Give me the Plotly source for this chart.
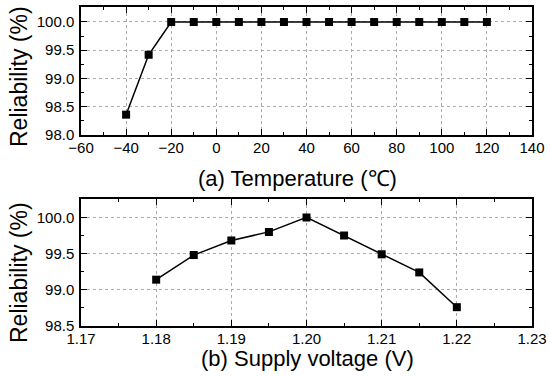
import plotly.graph_objects as go

temp_c = [-40, -30, -20, -10, 0, 10, 20, 30, 40, 50, 60, 70, 80, 90, 100, 110, 120]
temp_rel = [98.36, 99.42, 100.0, 100.0, 100.0, 100.0, 100.0, 100.0, 100.0, 100.0,
            100.0, 100.0, 100.0, 100.0, 100.0, 100.0, 100.0]

volt_v = [1.180, 1.185, 1.190, 1.195, 1.200, 1.205, 1.210, 1.215, 1.220]
volt_rel = [99.14, 99.48, 99.68, 99.80, 100.0, 99.75, 99.49, 99.24, 98.76]

W, H = 550, 377
FONT = "Arial, Liberation Sans, sans-serif"


def px(x):
    return x / W


def py(y):
    return 1 - y / H


fig = go.Figure()
mk = dict(symbol="square", size=8, color="black")
ln = dict(color="black", width=1.5)
fig.add_trace(go.Scatter(x=temp_c, y=temp_rel, mode="lines+markers", marker=mk, line=ln,
                         xaxis="x", yaxis="y", showlegend=False))
fig.add_trace(go.Scatter(x=volt_v, y=volt_rel, mode="lines+markers", marker=mk, line=ln,
                         xaxis="x2", yaxis="y2", showlegend=False))

common = dict(showline=True, linecolor="black", linewidth=1.5, mirror="allticks",
              ticks="inside", ticklen=6, tickwidth=1.2, tickcolor="black", automargin=False,
              showgrid=True, gridcolor="#aaaaaa", griddash="dot", gridwidth=1,
              zeroline=False, tickfont=dict(family=FONT, size=15, color="black"))
xcommon = dict(common, ticklabelstandoff=-2)
ycommon = dict(common, ticklabelstandoff=2)

xdom = [px(81), px(532)]
fig.update_layout(
    width=W, height=H, margin=dict(l=0, r=0, t=0, b=0),
    paper_bgcolor="white", plot_bgcolor="white",
    xaxis=dict(domain=xdom, range=[-60, 140], dtick=20, tick0=-60, anchor="y",
               minor=dict(dtick=10, ticks="inside", ticklen=3, tickcolor="black", showgrid=False),
               **xcommon),
    yaxis=dict(domain=[py(135), py(7)], range=[98.0, 100.265], dtick=0.5, tick0=98,
               tickformat=".1f", anchor="x",
               minor=dict(dtick=0.25, ticks="inside", ticklen=3, tickcolor="black", showgrid=False),
               **ycommon),
    xaxis2=dict(domain=xdom, range=[1.17, 1.23], dtick=0.01, tick0=1.17, tickformat=".2f",
                anchor="y2",
                minor=dict(dtick=0.005, ticks="inside", ticklen=3, tickcolor="black", showgrid=False),
                **xcommon),
    yaxis2=dict(domain=[py(326), py(199.3)], range=[98.5, 100.25], dtick=0.5, tick0=98.5,
                tickformat=".1f", anchor="x2",
                minor=dict(dtick=0.25, ticks="inside", ticklen=3, tickcolor="black", showgrid=False),
                **ycommon),
)

tfont = dict(family=FONT, size=22, color="black")
yfont = dict(family=FONT, size=23, color="black")
fig.add_annotation(text="Reliability (%)", x=px(19), y=py(77), xref="paper", yref="paper",
                   textangle=-90, showarrow=False, font=yfont, xanchor="center", yanchor="middle")
fig.add_annotation(text="Reliability (%)", x=px(19), y=py(273), xref="paper", yref="paper",
                   textangle=-90, showarrow=False, font=yfont, xanchor="center", yanchor="middle")
fig.add_annotation(text="(a) Temperature (℃)", x=px(297), y=py(178), xref="paper", yref="paper",
                   showarrow=False, font=tfont, xanchor="center", yanchor="middle")
fig.add_annotation(text="(b) Supply voltage (V)", x=px(307), y=py(358), xref="paper", yref="paper",
                   showarrow=False, font=tfont, xanchor="center", yanchor="middle")

fig.write_html("out.html", config={"displayModeBar": False},
               post_script="document.body.style.margin='0';document.body.style.overflow='hidden';")
